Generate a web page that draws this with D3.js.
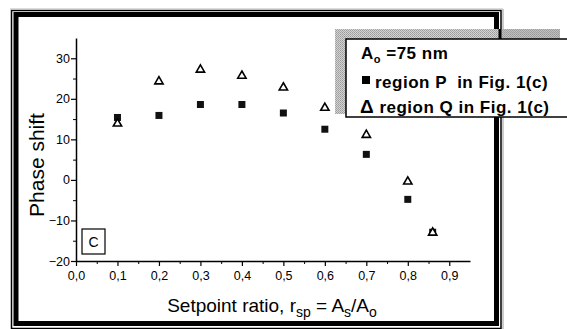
<!DOCTYPE html>
<html>
<head>
<meta charset="utf-8">
<script src="https://cdn.jsdelivr.net/npm/d3@7"></script>
<style>
  body { margin: 0; background: #fff; }
  svg { display: block; }
</style>
</head>
<body>
<svg width="567" height="329"></svg>
<script>
// setpoint ratio values and phase shift
const ratio   = [0.1, 0.2, 0.3, 0.4, 0.5, 0.6, 0.7, 0.8, 0.86];
const regionP = [15.4, 15.9, 18.6, 18.6, 16.5, 12.5, 6.3, -4.8, -12.9];
const regionQ = [14.0, 24.4, 27.3, 25.8, 22.9, 17.9, 11.2, -0.3, -12.9];
const xTicks  = [0, 0.1, 0.2, 0.3, 0.4, 0.5, 0.6, 0.7, 0.8, 0.9];
const yTicks  = [-20, -10, 0, 10, 20, 30];

const svg = d3.select("svg");

// pattern for the grey patch behind the legend
const defs = svg.append("defs");
const pat = defs.append("pattern")
    .attr("id", "dots").attr("width", 2).attr("height", 2)
    .attr("patternUnits", "userSpaceOnUse");
pat.append("rect").attr("width", 2).attr("height", 2).attr("fill", "#d4d4d4");
pat.append("rect").attr("width", 1).attr("height", 1).attr("fill", "#9a9a9a");
pat.append("rect").attr("x", 1).attr("y", 1).attr("width", 1).attr("height", 1).attr("fill", "#a8a8a8");

svg.append("rect").attr("width", 567).attr("height", 329).attr("fill", "#fff");

// double frame
svg.append("rect")
    .attr("x", 11.5).attr("y", 10.5).attr("width", 489.5).attr("height", 318)
    .attr("fill", "none").attr("stroke", "#000").attr("stroke-width", 1.5);
svg.append("rect")
    .attr("x", 16).attr("y", 14.5).attr("width", 480.5).attr("height", 309)
    .attr("fill", "none").attr("stroke", "#000").attr("stroke-width", 5);
svg.append("line").attr("x1", 503).attr("x2", 503).attr("y1", 9).attr("y2", 329)
    .attr("stroke", "#999").attr("stroke-width", 1);
svg.append("line").attr("x1", 10).attr("x2", 503).attr("y1", 9).attr("y2", 9)
    .attr("stroke", "#bbb").attr("stroke-width", 1);

const x = d3.scaleLinear().domain([0, 0.95]).range([76, 470]);
const y = d3.scaleLinear().domain([-20, 35]).range([261, 38]);

const tickFont = "'Liberation Sans Narrow', 'Arial Narrow', 'Liberation Sans', sans-serif";

// x axis
const xAxis = svg.append("g").attr("transform", `translate(0,${y(-20)})`)
    .call(d3.axisBottom(x).tickValues(xTicks).tickSize(5).tickSizeOuter(0)
      .tickFormat(d => d3.format(".1f")(d).replace(".", ",")));
xAxis.select(".domain").attr("stroke-width", 1.5);
xAxis.selectAll(".tick line").attr("stroke-width", 1.2);
xAxis.selectAll("text").attr("font-family", tickFont).attr("font-size", 12.5)
    .attr("fill", "#000").attr("dy", "0.9em");
svg.append("g").attr("transform", `translate(0,${y(-20)})`)
    .call(d3.axisBottom(x).tickValues(d3.range(0.05, 0.95, 0.1)).tickSize(3).tickFormat(""))
    .call(g => g.select(".domain").remove());

// y axis
const yAxis = svg.append("g").attr("transform", `translate(${x(0)},0)`)
    .call(d3.axisLeft(y).tickValues(yTicks).tickSize(5).tickSizeOuter(0));
yAxis.select(".domain").attr("stroke-width", 1.5);
yAxis.selectAll(".tick line").attr("stroke-width", 1.2);
yAxis.selectAll("text").attr("font-family", tickFont).attr("font-size", 12.5)
    .attr("fill", "#000").attr("x", -6);
svg.append("g").attr("transform", `translate(${x(0)},0)`)
    .call(d3.axisLeft(y).tickValues(d3.range(-15, 35, 10)).tickSize(3).tickFormat(""))
    .call(g => g.select(".domain").remove());

// axis titles
svg.append("text")
    .attr("transform", "translate(44,165) rotate(-90)")
    .attr("text-anchor", "middle")
    .attr("font-family", "'Liberation Sans', Arial, sans-serif").attr("font-size", 21)
    .text("Phase shift");

const xt = svg.append("text")
    .attr("x", 272).attr("y", 312).attr("text-anchor", "middle")
    .attr("font-family", "'Liberation Sans', Arial, sans-serif").attr("font-size", 19);
xt.append("tspan").text("Setpoint ratio, r");
xt.append("tspan").attr("font-size", 14).attr("dy", 5).text("sp");
xt.append("tspan").attr("dy", -5).text(" = A");
xt.append("tspan").attr("font-size", 14).attr("dy", 5).text("s");
xt.append("tspan").attr("dy", -5).text("/A");
xt.append("tspan").attr("font-size", 14).attr("dy", 5).text("o");

// panel label
svg.append("rect").attr("x", 82).attr("y", 229).attr("width", 23).attr("height", 25)
    .attr("fill", "none").attr("stroke", "#000").attr("stroke-width", 1.2);
svg.append("text").attr("x", 93.5).attr("y", 247).attr("text-anchor", "middle")
    .attr("font-family", "'Liberation Sans', Arial, sans-serif").attr("font-size", 14)
    .text("C");

// markers
const tri = d3.symbol().type(d3.symbolTriangle).size(30);
svg.append("g").selectAll("rect")
    .data(ratio.map((r, i) => [r, regionP[i]]))
    .join("rect")
      .attr("x", d => x(d[0]) - 3.5).attr("y", d => y(d[1]) - 3.5)
      .attr("width", 7).attr("height", 7).attr("fill", "#111");
svg.append("g").selectAll("path")
    .data(ratio.map((r, i) => [r, regionQ[i]]))
    .join("path")
      .attr("d", tri)
      .attr("transform", d => `translate(${x(d[0])},${y(d[1]) + 0.5})`)
      .attr("fill", "#fff").attr("stroke", "#000").attr("stroke-width", 1.6);

// legend with grey patch behind
svg.append("rect").attr("x", 335).attr("y", 29).attr("width", 225).attr("height", 85)
    .attr("fill", "url(#dots)");
svg.append("rect").attr("x", 501).attr("y", 29).attr("width", 59).attr("height", 85)
    .attr("fill", "#9c9c9c").attr("opacity", 0.35);
svg.append("line").attr("x1", 500).attr("x2", 500).attr("y1", 29).attr("y2", 39)
    .attr("stroke", "#000").attr("stroke-width", 3);
svg.append("rect").attr("x", 346).attr("y", 39).attr("width", 240).attr("height", 78)
    .attr("fill", "#fff").attr("stroke", "#000").attr("stroke-width", 1.5);

const legFont = "'Liberation Sans', Arial, sans-serif";
const l1 = svg.append("text").attr("x", 361).attr("y", 59)
    .attr("font-family", legFont).attr("font-size", 17).attr("font-weight", "bold")
    .attr("letter-spacing", 0.5);
l1.append("tspan").text("A");
l1.append("tspan").attr("font-size", 11).attr("dy", 4).text("o");
l1.append("tspan").attr("dy", -4).text(" =75 nm");

svg.append("rect").attr("x", 362).attr("y", 76).attr("width", 8).attr("height", 8).attr("fill", "#000");
svg.append("text").attr("x", 375).attr("y", 88)
    .attr("font-family", legFont).attr("font-size", 17).attr("font-weight", "bold")
    .attr("letter-spacing", 0.5).style("white-space", "pre")
    .text("region P  in Fig. 1(c)");
const l3 = svg.append("text").attr("x", 360).attr("y", 113)
    .attr("font-family", legFont).attr("font-size", 17).attr("font-weight", "bold")
    .attr("letter-spacing", 0.5);
l3.append("tspan").attr("font-size", 19).text("\u0394");
l3.append("tspan").text(" region Q in Fig. 1(c)");
</script>
</body>
</html>
